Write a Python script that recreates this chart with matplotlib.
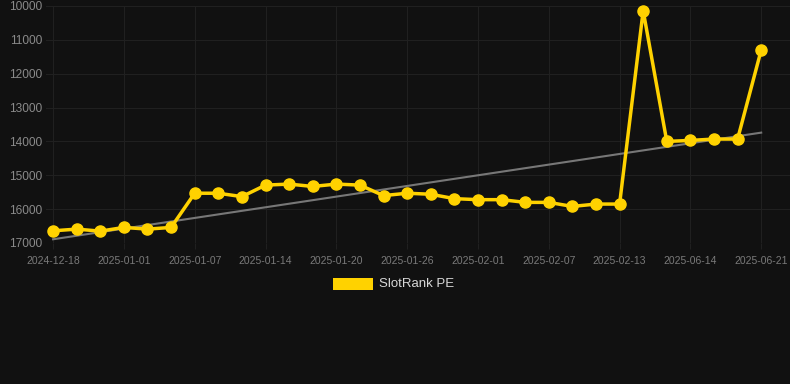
import matplotlib
matplotlib.use('Agg')
import matplotlib.pyplot as plt
import numpy as np

plt.rcParams['font.family'] = ['Liberation Sans', 'DejaVu Sans']

BG = '#111111'
GOLD = '#FFD200'

values = [16640, 16590, 16650, 16540, 16590, 16540, 15530, 15530, 15630, 15290,
          15260, 15330, 15260, 15290, 15600, 15530, 15560, 15690, 15720, 15720,
          15800, 15800, 15920, 15850, 15850, 10140, 14000, 13970, 13930, 13930,
          11300]
tick_pos = [0, 3, 6, 9, 12, 15, 18, 21, 24, 27, 30]
tick_labels = ['2024-12-18', '2025-01-01', '2025-01-07', '2025-01-14', '2025-01-20',
               '2025-01-26', '2025-02-01', '2025-02-07', '2025-02-13', '2025-06-14',
               '2025-06-21']
trend_ends = [16890, 13740]

x = np.arange(len(values))

fig = plt.figure(figsize=(7.9, 3.84), dpi=100, facecolor=BG)
ax = fig.add_axes([46 / 790, 1 - 243 / 384, 744 / 790, 237 / 384], facecolor=BG)

ax.plot([x[0], x[-1]], trend_ends, color='#777777', linewidth=1.5, zorder=2)
ax.plot(x, values, color=GOLD, linewidth=2.5, marker='o', markersize=8,
        zorder=3, clip_on=False)

ax.set_xlim(-0.3, 31.22)
ax.set_ylim(17000, 10000)
ax.set_yticks(range(10000, 17001, 1000))
ax.set_xticks(tick_pos)
ax.set_xticklabels(tick_labels)
ax.grid(True, color='#202020', linewidth=0.8)
for s in ax.spines.values():
    s.set_visible(False)
ax.tick_params(axis='y', colors='#8a8a8a', labelsize=8.6, length=0, pad=3)
ax.tick_params(axis='x', colors='#202020', labelcolor='#7a7a7a', labelsize=7.5,
               length=4, pad=5)

fig.patches.append(plt.Rectangle((333 / 790, 1 - 290 / 384), 40 / 790, 12 / 384,
                                 transform=fig.transFigure, facecolor=GOLD,
                                 edgecolor='none'))
fig.text(379 / 790, 1 - 284 / 384, 'SlotRank PE', color='#d8d8d8', fontsize=9.5,
         ha='left', va='center')

fig.savefig('out.png', dpi=100, facecolor=BG)
